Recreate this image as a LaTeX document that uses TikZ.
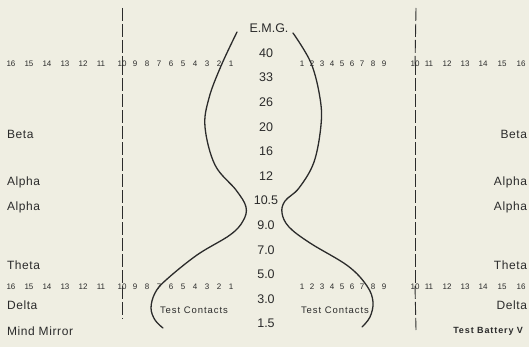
\documentclass[tikz,border=0pt]{standalone}
\usepackage{fontspec}
\setmainfont{Liberation Sans}
\definecolor{paper}{HTML}{EFEEE2}
\definecolor{ink}{HTML}{2B2B2B}
\begin{document}
\begin{tikzpicture}[x=1pt,y=-1pt,
  every node/.style={text=ink, inner sep=0pt, outer sep=0pt},
  rownum/.style={font=\fontsize{8}{9}\selectfont, anchor=center},
  emgnum/.style={font=\fontsize{12.5}{14}\selectfont, anchor=center},
  bandlbl/.style={font=\fontsize{12}{14}\addfontfeature{LetterSpace=5}\selectfont},
  smalllbl/.style={font=\fontsize{9.5}{11}\addfontfeature{LetterSpace=10}\selectfont},
  divider/.style={draw=ink, line width=0.9pt, dash pattern=on 13pt off 3pt},
  trace/.style={draw=ink, line width=1.3pt, line cap=round}]
\fill[paper] (0,0) rectangle (529,347);
\useasboundingbox (0,0) rectangle (529,347);
% top and bottom number rows
\foreach \n/\x in {16/11,15/29,14/47,13/65,12/83,11/101,10/122,9/135,8/147,7/159,6/171,5/183,4/195,3/207,2/219,1/231}{
  \node[rownum] (tl\n) at (\x,63.5) {\n};
  \node[rownum] (bl\n) at (\x,287) {\n};
}
\foreach \n/\x in {1/302,2/312,3/322,4/332,5/342,6/352,7/362,8/373,9/384,10/415,11/429,12/447,13/465,14/483,15/502,16/521}{
  \node[rownum] (tr\n) at (\x,63.5) {\n};
  \node[rownum] (br\n) at (\x,287) {\n};
}
% centre scale
\node[emgnum] (emg) at (269,28) {E.M.G.};
\foreach \v [count=\i from 0] in {40,33,26,20,16,12,10.5,9.0,7.0,5.0,3.0,1.5}{
  \node[emgnum] (e\i) at (266,{53+24.6*\i}) {\v};
}
% band labels left
\node[bandlbl, anchor=west] (lbeta) at (7,134) {Beta};
\node[bandlbl, anchor=west] (lalpha1) at (7,182) {Alpha};
\node[bandlbl, anchor=west] (lalpha2) at (7,207) {Alpha};
\node[bandlbl, anchor=west] (ltheta) at (7,265) {Theta};
\node[bandlbl, anchor=west] (ldelta) at (7,305) {Delta};
\node[bandlbl, anchor=west] (lmm) at (7,331) {Mind Mirror};
% band labels right
\node[bandlbl, anchor=east] (rbeta) at (527,134) {Beta};
\node[bandlbl, anchor=east] (ralpha1) at (527,182) {Alpha};
\node[bandlbl, anchor=east] (ralpha2) at (527,207) {Alpha};
\node[bandlbl, anchor=east] (rtheta) at (527,265) {Theta};
\node[bandlbl, anchor=east] (rdelta) at (527,305) {Delta};
\node[anchor=east, font=\fontsize{9}{10}\bfseries\addfontfeature{LetterSpace=10}\selectfont] (rtb) at (523,331) {Test Battery V};
% test contacts
\node[smalllbl, anchor=center] (tcl) at (194,310) {Test Contacts};
\node[smalllbl, anchor=center] (tcr) at (335,310) {Test Contacts};
% dividers
\coordinate (ltop) at (122,8);
\coordinate (lbot) at (122,318);
\coordinate (rtop) at (416,8);
\coordinate (rbot) at (416,330);
\draw[divider] (ltop) -- ([yshift=-4pt]tl10.north);
\draw[divider] ([yshift=4pt]tl10.south) -- ([yshift=-4pt]bl10.north);
\draw[divider] ([yshift=4pt]bl10.south) -- (lbot);
\draw[divider] (rtop) -- ([yshift=-4pt]tr10.north);
\draw[divider] ([yshift=4pt]tr10.south) -- ([yshift=-4pt]br10.north);
\draw[divider] ([yshift=4pt]br10.south) -- (rbot);
% traces
\draw[trace] plot[smooth, tension=0.6] coordinates {(237,32) (221,66) (209,98) (205,127) (215,165) (236,190) (246,207) (243,221) (230,235) (197,255) (166,280) (155,293) (151,308) (155,320) (163,328)};
\draw[trace] plot[smooth, tension=0.6] coordinates {(293,33) (311,63) (320,98) (321,125) (314,162) (299,188) (285,201) (282,213) (289,227) (310,243) (348,266) (367,286) (373,302) (370,317) (362,327)};
\end{tikzpicture}
\end{document}
